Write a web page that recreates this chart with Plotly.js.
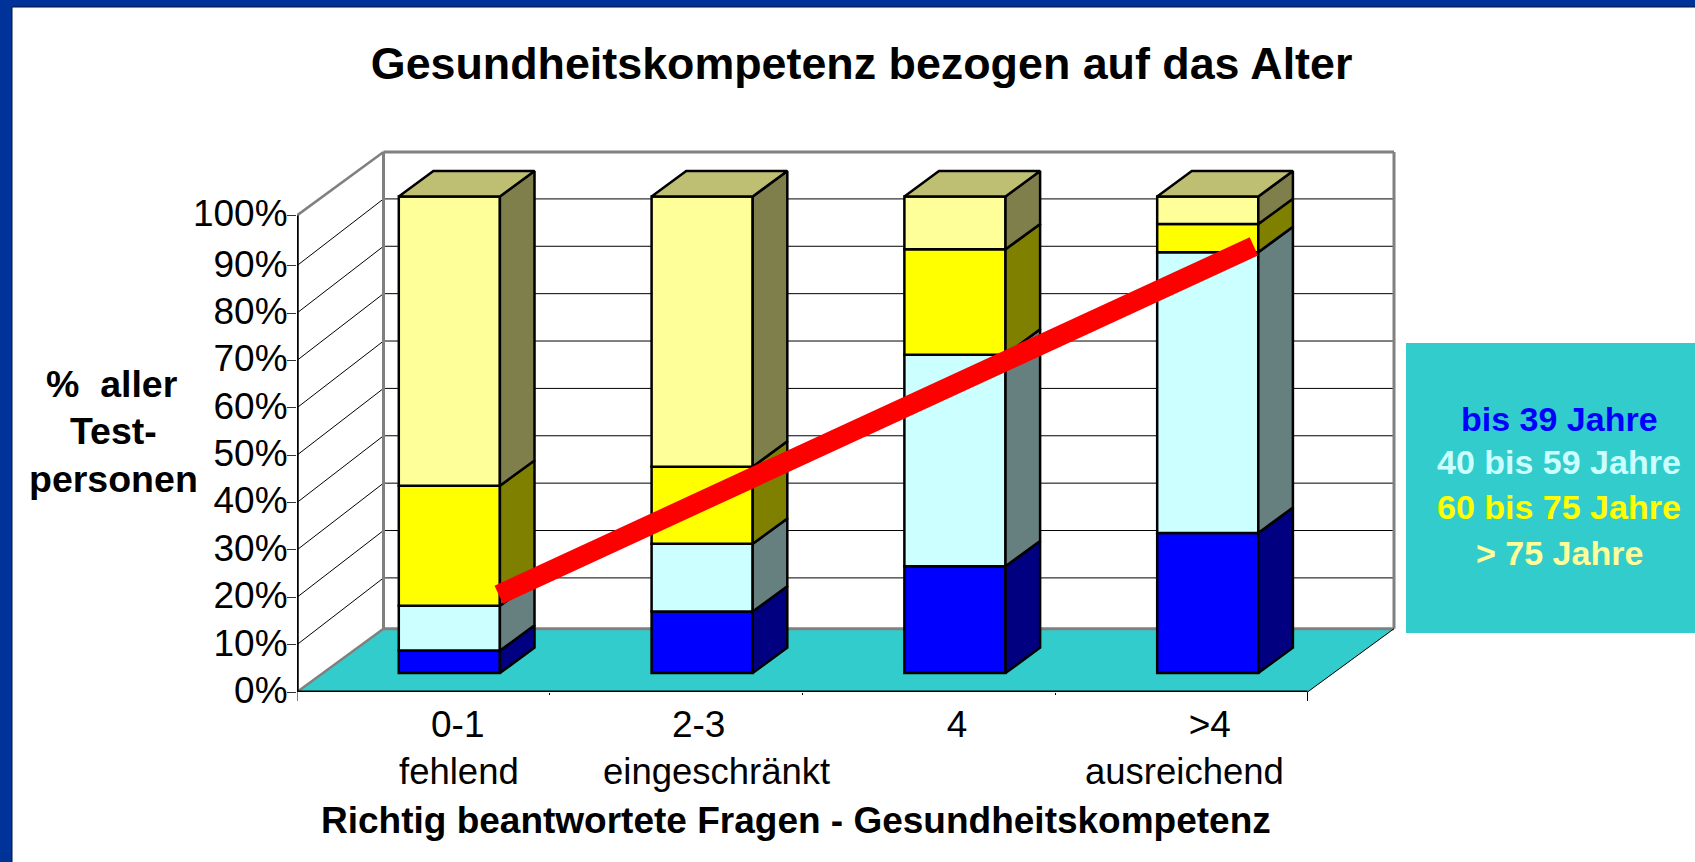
<!DOCTYPE html>
<html>
<head>
<meta charset="utf-8">
<script src="https://cdn.plot.ly/plotly-3.0.1.min.js"></script>
<style>html,body{margin:0;padding:0;background:#fff}#chart{width:1695px;height:862px}</style>
</head>
<body>
<div id="chart"></div>
<script>
// ---- data ----
const categoryTop = ['0-1', '2-3', '4', '>4'];
const categorySub = ['fehlend', 'eingeschränkt', '', 'ausreichend'];
const seriesNames = ['bis 39 Jahre', '40 bis 59 Jahre', '60 bis 75 Jahre', '> 75 Jahre'];
const bis39  = [4.7, 12.9, 22.4, 29.4];
const bis59  = [9.4, 14.2, 44.4, 58.9];
const bis75  = [25.2, 16.2, 22.1, 5.9];
const ueber75 = [60.7, 56.7, 11.1, 5.8];
const trendX = [0.798, 3.785];
const trendY = [20.4, 93.5];
const yTickText = ['0%','10%','20%','30%','40%','50%','60%','70%','80%','90%','100%'];
const yTickVals = [0,10,20,30,40,50,60,70,80,90,100];

const allSeries = [bis39, bis59, bis75, ueber75];
const frontColors = ['#0000FF', '#CCFFFF', '#FFFF00', '#FFFF99'];
const sideColors  = ['#000080', '#667F7F', '#7F7F00', '#7F7F4C'];
const topColor = '#BFBF73';
const floorColor = '#33CCCC';
const frameColor = '#003399';
const FONT = '"Liberation Sans", Arial, sans-serif';

// ---- geometry of the pseudo-3D box ----
const L = 297, R = 1404, T = 142, B = 692, W = 1695, H = 862;
const BOX_R = 1394, BOX_T = 152;
const catPx = 252.8, unitPx = 4.766;
const XEND = (R - L) / catPx, YEND = (B - T) / unitPx;
const XMAX = (BOX_R - L) / catPx, YMAX = (B - BOX_T) / unitPx;
const depthX = 86.5 / catPx, depthY = 13.28;
const gridDepthY = 14.0, gridScale = 0.994;
const barShiftX = 0.3 * depthX, barShiftY = 0.3 * depthY;
const barDepthX = 0.4 * depthX, barDepthY = 0.4 * depthY;
const barWidth = 0.4;
const barCentre = i => i + 0.5 + barShiftX;
const tickPos = yTickVals.map(v => (v === 0 || v === 100) ? v : v * gridScale);
const labelShift = [0.636, 1.589, 2.611, 3.611];
const subShift = [0.639, 1.661, 2.611, 3.510];
const px = x => (x - L) / (R - L);
const py = y => (B - y) / (B - T);

// ---- traces ----
const traces = [];
const cum = categoryTop.map(() => 0);
const levels = [];
const EDGE = 2.5;
allSeries.forEach((vals, s) => {
  const base = cum.map(c => c + barShiftY);
  traces.push({
    type: 'bar', name: seriesNames[s],
    x: categoryTop.map((_, i) => barCentre(i)), y: vals, base: base,
    width: barWidth,
    marker: { color: frontColors[s], line: { color: '#000', width: EDGE } },
    showlegend: false, hoverinfo: 'skip'
  });
  const sx = [], sy = [];
  vals.forEach((v, i) => {
    const xr = barCentre(i) + barWidth / 2;
    const lo = cum[i] + barShiftY, hi = lo + v;
    sx.push(xr, xr + barDepthX, xr + barDepthX, xr, xr, null);
    sy.push(lo, lo + barDepthY, hi + barDepthY, hi, lo, null);
    cum[i] += v;
  });
  levels.push({ sx, sy, s });
});
levels.forEach(l => traces.push({
  type: 'scatter', mode: 'lines', x: l.sx, y: l.sy, fill: 'toself',
  fillcolor: sideColors[l.s], line: { color: '#000', width: EDGE },
  showlegend: false, hoverinfo: 'skip'
}));
const tx = [], ty = [];
cum.forEach((c, i) => {
  const xl = barCentre(i) - barWidth / 2, xr = xl + barWidth, yb = c + barShiftY;
  tx.push(xl, xl + barDepthX, xr + barDepthX, xr, xl, null);
  ty.push(yb, yb + barDepthY, yb + barDepthY, yb, yb, null);
});
traces.push({
  type: 'scatter', mode: 'lines', x: tx, y: ty, fill: 'toself', fillcolor: topColor,
  line: { color: '#000', width: EDGE }, showlegend: false, hoverinfo: 'skip'
});
traces.push({
  type: 'scatter', mode: 'lines', x: trendX, y: trendY,
  line: { color: '#FF0000', width: 20 }, showlegend: false, hoverinfo: 'skip'
});

// ---- walls, floor, panels (below the traces) ----
const seg = (x0, y0, x1, y1, color, width) => ({
  type: 'line', xref: 'x', yref: 'y', x0, y0, x1, y1, layer: 'below',
  line: { color, width }
});
const rect = (x0, y0, x1, y1, fill, lineColor) => ({
  type: 'rect', xref: 'paper', yref: 'paper', x0: px(x0), x1: px(x1), y0: py(y0), y1: py(y1),
  layer: 'below', fillcolor: fill, line: lineColor ? { color: lineColor, width: 1 } : { width: 0 }
});
const shapes = [
  rect(12, 7, W + 5, H + 5, '#FFFFFF', '#00143C'),
  rect(1406, 343, W, 633, floorColor),
  {
    type: 'path', xref: 'x', yref: 'y', layer: 'below', fillcolor: floorColor, line: { width: 0 },
    path: `M 0 0 L ${depthX} ${depthY} L ${XMAX} ${depthY} L ${XMAX - depthX} 0 Z`
  }
];
tickPos.slice(1, -1).forEach(v => {
  shapes.push(seg(0, v, depthX, v + gridDepthY, '#000', 1));
  shapes.push(seg(depthX, v + gridDepthY, XMAX, v + gridDepthY, '#000', 1));
});
const G = '#808080';
shapes.push(seg(0, 100, depthX, YMAX, G, 2.5));
shapes.push(seg(depthX, YMAX, XMAX, YMAX, G, 3));
shapes.push(seg(depthX, depthY, depthX, YMAX, G, 3));
shapes.push(seg(XMAX, depthY, XMAX, YMAX, G, 3));
shapes.push(seg(depthX, depthY, XMAX, depthY, G, 3));
shapes.push(seg(0, 0, depthX, depthY, G, 2.5));
shapes.push(seg(XMAX - depthX, 0, XMAX, depthY, '#000', 1));
shapes.push(seg(0, 0, 0, 100, '#000', 3.5));
shapes.push(seg(0, 0, XMAX - depthX, 0, '#000', 3));
[0, XMAX - depthX].forEach(x => shapes.push({
  type: 'line', xref: 'x', yref: 'paper', x0: x, x1: x, y0: py(692), y1: py(701),
  layer: 'below', line: { color: '#000', width: 1 }
}));

// ---- texts ----
const note = (text, x, y, size, bold, color, yanchor) => ({
  text, xref: 'paper', yref: 'paper', x: px(x), y: py(y), xanchor: 'center', yanchor: yanchor || 'middle',
  showarrow: false, font: { family: FONT, size, color: color || '#000', weight: bold ? 700 : 400 }
});
const annotations = [
  note('Richtig beantwortete Fragen - Gesundheitskompetenz', 795.5, 820, 37, true),
  note('%\u00A0 aller', 112, 384, 37.5, true),
  note('Test-', 113, 431, 37.5, true),
  note('personen', 113, 479, 37.5, true)
];
categorySub.forEach((t, i) => { if (t) annotations.push(note(t, L + subShift[i] * catPx, 771, 36.5)); });
const legendY = [418.5, 462, 507, 552.5];
seriesNames.forEach((t, i) => annotations.push(note(t, 1559, legendY[i], 34, true, frontColors[i])));

const layout = {
  width: W, height: H,
  margin: { l: L, r: W - R, t: T, b: H - B, pad: 0 },
  paper_bgcolor: frameColor, plot_bgcolor: 'rgba(0,0,0,0)',
  barmode: 'overlay', showlegend: false, hovermode: false,
  title: {
    text: 'Gesundheitskompetenz bezogen auf das Alter', xref: 'container', yref: 'container',
    x: 861.6 / W, y: 1 - 63 / H, xanchor: 'center', yanchor: 'middle',
    font: { family: FONT, size: 44.8, color: '#000', weight: 700 }
  },
  xaxis: {
    range: [0, XEND], showgrid: false, zeroline: false, showline: false, fixedrange: true,
    tickmode: 'array', tickvals: labelShift, ticktext: categoryTop, ticks: '', tickangle: 0,
    ticklabelstandoff: 7,
    tickfont: { family: FONT, size: 37, color: '#000' },
    minor: { tickmode: 'array', tickvals: [1, 2, 3], ticks: 'outside', ticklen: 2, tickwidth: 1, tickcolor: '#000', showgrid: false }
  },
  yaxis: {
    range: [0, YEND], showgrid: false, zeroline: false, showline: false, fixedrange: true,
    tickmode: 'array', tickvals: tickPos, ticktext: yTickText,
    ticks: 'outside', ticklen: 9, tickwidth: 1, tickcolor: '#333',
    ticklabelstandoff: -8, ticklabelshift: -2,
    tickfont: { family: FONT, size: 37, color: '#000' }
  },
  shapes, annotations
};
Plotly.newPlot('chart', traces, layout, { displayModeBar: false, staticPlot: true });
</script>
</body>
</html>
